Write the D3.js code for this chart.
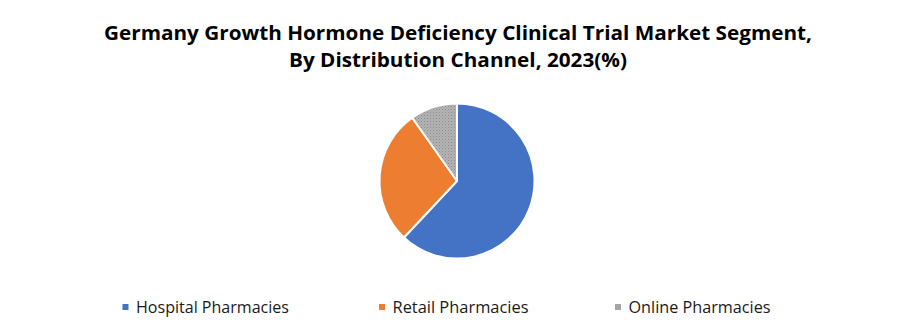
<!DOCTYPE html>
<html>
<head>
<meta charset="utf-8">
<script src="https://cdn.jsdelivr.net/npm/d3@7"></script>
<style>
body { margin: 0; background: #fff; }
text { font-family: "Open Sans", "Liberation Sans", sans-serif; }
</style>
</head>
<body>
<svg id="chart" width="915" height="330"></svg>
<script>
let categories = ["Hospital Pharmacies", "Retail Pharmacies", "Online Pharmacies"];
let shares = [62, 28.2, 9.8];
let colors = ["#4472c4", "#ed7d31", "url(#grayTexture)"];
let legendColors = ["#4472c4", "#ed7d31", "#a5a5a5"];
let titleLines = ["Germany Growth Hormone Deficiency Clinical Trial Market Segment,", "By Distribution Channel, 2023(%)"];

let svg = d3.select("#chart");

// dotted gray fill like the original
let pat = svg.append("defs").append("pattern")
	.attr("id", "grayTexture").attr("width", 3).attr("height", 3)
	.attr("patternUnits", "userSpaceOnUse");
pat.append("rect").attr("width", 3).attr("height", 3).attr("fill", "#b4b4b4");
pat.append("rect").attr("width", 1).attr("height", 1).attr("fill", "#8a8a8a");
pat.append("rect").attr("x", 1.5).attr("y", 1.5).attr("width", 1).attr("height", 1).attr("fill", "#9a9a9a");

let data = categories.map(function(c, i) { return {name: c, value: shares[i], color: colors[i]}; });

let pie = d3.pie().sort(null).value(function(d) { return d.value; });
let arc = d3.arc().innerRadius(0).outerRadius(77.5);

let g = svg.append("g").attr("transform", "translate(457,181)");
g.selectAll("path").data(pie(data)).enter().append("path")
	.attr("d", arc)
	.attr("fill", function(d) { return d.data.color; })
	.attr("stroke", "#fff")
	.attr("stroke-width", 2)
	.attr("stroke-linejoin", "round");

// title
let titleY = [40, 67];
titleLines.forEach(function(t, i) {
	svg.append("text")
		.attr("x", 458).attr("y", titleY[i])
		.attr("text-anchor", "middle")
		.attr("font-size", 20).attr("font-weight", "bold")
		.attr("fill", "#000")
		.attr("textLength", i == 0 ? 708 : 338)
		.attr("lengthAdjust", "spacingAndGlyphs")
		.text(t);
});

// legend
let legX = [122.5, 379, 615];
let legW = [153, 136, 142];
let leg = svg.append("g").selectAll("g").data(categories).enter().append("g")
	.attr("transform", function(d, i) { return "translate(" + legX[i] + ",307)"; });
leg.append("rect").attr("x", 0).attr("y", -3).attr("width", 6).attr("height", 6)
	.attr("fill", function(d, i) { return legendColors[i]; });
leg.append("text").attr("x", 13.5).attr("y", 6)
	.attr("font-size", 16).attr("fill", "#1a1a1a")
	.attr("textLength", function(d, i) { return legW[i]; })
	.attr("lengthAdjust", "spacingAndGlyphs")
	.text(function(d) { return d; });
</script>
</body>
</html>
